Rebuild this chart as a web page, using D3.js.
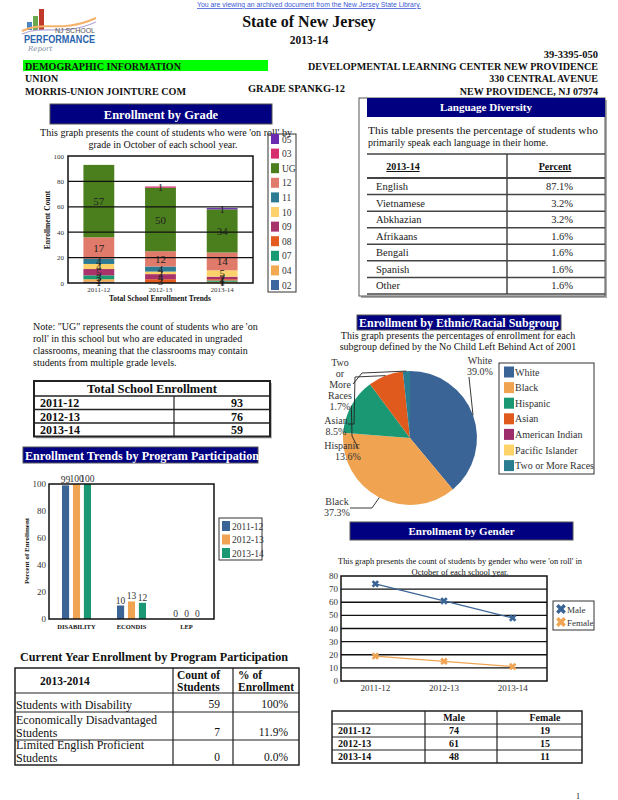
<!DOCTYPE html>
<html><head><meta charset="utf-8">
<script src="https://cdn.jsdelivr.net/npm/d3@7"></script>
<style>
body{margin:0;background:#fff;}
svg{display:block;font-family:"Liberation Serif","Times New Roman",serif;}
</style>
</head><body>
<svg id="c" width="618" height="800"></svg>
<script>
// ---------------- DATA ----------------
const gradeYears = ["2011-12","2012-13","2013-14"];
const gradeKeys  = ["02","04","07","08","09","10","11","12","UG","03","05"]; // bottom -> top
const g02 = [1,0,0];
const g04 = [2,0,1];
const g07 = [3,0,1];
const g08 = [0,3,1];
const g09 = [5,4,2];
const g10 = [4,2,5];
const g11 = [4,4,0];
const g12 = [17,12,14];
const gUG = [57,50,34];
const g03 = [0,1,0];
const g05 = [0,0,1];
const gradeColors = ["#3d66a0","#f3a952","#1a9a73","#e35b1f","#a8336b","#fdd26a","#2d7b92","#e07a6a","#4b7f1d","#d62e6e","#6a2bb0"];
const gradeTicks = [0,20,40,60,80,100];

const totalYears = ["2011-12","2012-13","2013-14"];
const totalEnrollment = [93,76,59];

const languages = ["English","Vietnamese","Abkhazian","Afrikaans","Bengali","Spanish","Other"];
const languagePct = ["87.1%","3.2%","3.2%","1.6%","1.6%","1.6%","1.6%"];

const programCats = ["DISABILITY","ECONDIS","LEP"];
const programYears = ["2011-12","2012-13","2013-14"];
const prog2011 = [99,10,0];
const prog2012 = [100,13,0];
const prog2013 = [100,12,0];
const programColors = ["#3a6496","#f0a452","#1a9873"];
const programTicks = [0,20,40,60,80,100];

const ethnicGroups = ["White","Black","Hispanic","Asian","American Indian","Pacific Islander","Two or More Races"];
const ethnicPct = [39.0,37.3,13.6,8.5,0,0,1.7];
const ethnicColors = ["#3a6496","#f0a452","#1a9873","#e05a1e","#9e2d6b","#fdd36a","#2a7c91"];

const genderYears = ["2011-12","2012-13","2013-14"];
const male = [74,61,48];
const female = [19,15,11];
const genderTicks = [0,10,20,30,40,50,60,70,80];

const currentPrograms = [["Students with Disability"],["Economically Disadvantaged","Students"],["Limited English Proficient","Students"]];
const currentCount = [59,7,0];
const currentPct = ["100%","11.9%","0.0%"];

// ---------------- HELPERS ----------------
const svg = d3.select("#c");
function T(x,y,s,o={}){
  const t = svg.append("text").attr("x",x).attr("y",y).text(s)
    .attr("font-size",o.size||10).attr("text-anchor",o.anchor||"start").attr("fill",o.fill||"#111");
  if(o.bold) t.attr("font-weight","bold");
  if(o.family) t.attr("font-family",o.family);
  if(o.deco) t.attr("text-decoration",o.deco);
  if(o.len) t.attr("textLength",o.len).attr("lengthAdjust","spacingAndGlyphs");
  return t;
}
function R(x,y,w,h,fill,stroke,sw){
  return svg.append("rect").attr("x",x).attr("y",y).attr("width",w).attr("height",h)
   .attr("fill",fill||"none").attr("stroke",stroke||"none").attr("stroke-width",sw||1);
}
function L(x1,y1,x2,y2,c,w){
  return svg.append("line").attr("x1",x1).attr("y1",y1).attr("x2",x2).attr("y2",y2)
   .attr("stroke",c||"#222").attr("stroke-width",w||1);
}
function banner(x,y,w,h,txt,size){
  R(x,y,w,h,"#000080","#555",1);
  T(x+w/2,y+h/2+size*0.36,txt,{size:size,bold:true,anchor:"middle",fill:"#fff"});
}

// ---------------- HEADER ----------------
T(309,7,"You are viewing an archived document from the New Jersey State Library.",{size:8,anchor:"middle",fill:"#3b5bd6",deco:"underline",family:"Liberation Sans, Arial, sans-serif",len:224});
// logo
R(33,16,5,14,"#6aa84f"); R(39,9,5,21,"#c0392b"); R(27,22,5,8,"#4a86c5");
svg.append("path").attr("d","M22,31 C45,20 60,34 96,18").attr("fill","none").attr("stroke","#f6b26b").attr("stroke-width",2);
svg.append("path").attr("d","M22,34 C45,24 62,37 96,22").attr("fill","none").attr("stroke","#b4a7d6").attr("stroke-width",1.2);
T(95,33,"NJ SCHOOL",{size:7,anchor:"end",fill:"#555",family:"Liberation Sans, Arial, sans-serif"});
T(24,43,"PERFORMANCE",{size:10,bold:true,fill:"#2a64ad",family:"Liberation Sans, Arial, sans-serif",len:71});
T(28,51,"Report",{size:7,fill:"#7f8fa6",family:"DejaVu Serif, serif"}).attr("font-style","italic");

T(309,27,"State of New Jersey",{size:16,bold:true,anchor:"middle"});
T(309,44,"2013-14",{size:11.5,bold:true,anchor:"middle"});
T(598,58,"39-3395-050",{size:10.5,bold:true,anchor:"end"});
R(23,60,245,11,"#00ff00");
T(25,70,"DEMOGRAPHIC INFORMATION",{size:10,bold:true,len:156});
T(598,70,"DEVELOPMENTAL LEARNING CENTER NEW PROVIDENCE",{size:10,bold:true,anchor:"end",len:290});
T(25,82,"UNION",{size:10,bold:true});
T(598,82,"330 CENTRAL AVENUE",{size:10,bold:true,anchor:"end"});
T(25,95,"MORRIS-UNION JOINTURE COM",{size:10,bold:true,len:161});
T(248,92,"GRADE SPANKG-12",{size:10,bold:true,len:97});
T(598,95,"NEW PROVIDENCE, NJ 07974",{size:10,bold:true,anchor:"end"});

// ---------------- ENROLLMENT BY GRADE ----------------
banner(50,104,222,20,"Enrollment by Grade",12.5);
T(166,136,"This graph presents the count of students who were 'on roll' by",{size:10,anchor:"middle",len:252});
T(163,148,"grade in October of each school year.",{size:10,anchor:"middle"});
(function(){
  const series = [g02,g04,g07,g08,g09,g10,g11,g12,gUG,g03,g05];
  const rows = gradeYears.map((yr,i)=>{const o={year:yr}; gradeKeys.forEach((k,j)=>o[k]=series[j][i]); return o;});
  const x = d3.scaleBand().domain(gradeYears).range([68,253]).paddingInner(0.5).paddingOuter(0.25);
  const y = d3.scaleLinear().domain([0,100]).range([283,156]);
  const color = d3.scaleOrdinal().domain(gradeKeys).range(gradeColors);
  const g = svg.append("g");
  gradeTicks.forEach(t=>{ if(t>0 && t<100) L(68,y(t),253,y(t),"#111",1.3); });
  const stack = d3.stack().keys(gradeKeys)(rows);
  stack.forEach(s=>{
    g.selectAll(null).data(s).join("rect")
     .attr("x",d=>x(d.data.year)).attr("width",x.bandwidth())
     .attr("y",d=>y(d[1])).attr("height",d=>y(d[0])-y(d[1]))
     .attr("fill",color(s.key));
  });
  stack.forEach(s=>{
    g.selectAll(null).data(s.filter(d=>d[1]-d[0]>0)).join("text")
     .attr("x",d=>x(d.data.year)+x.bandwidth()/2).attr("y",d=>(y(d[0])+y(d[1]))/2+4)
     .attr("text-anchor","middle").attr("font-size",11).attr("fill","#222")
     .text(d=>d[1]-d[0]);
  });
  R(68,156,185,127,"none","#111",1.5);
  gradeTicks.forEach(t=>T(64,y(t)+2.5,t,{size:7,anchor:"end",fill:"#333"}));
  gradeYears.forEach(yr=>T(x(yr)+x.bandwidth()/2,292,yr,{size:7,anchor:"middle",fill:"#333"}));
  T(160,301,"Total School Enrollment Trends",{size:7.5,bold:true,anchor:"middle"});
  T(0,0,"Enrollment Count",{size:7.5,bold:true,anchor:"middle"}).attr("transform","translate(50,220) rotate(-90)");
  // legend
  R(268,134,28,158,"none","#333",1);
  const leg = gradeKeys.slice().reverse();
  leg.forEach((k,i)=>{
    const cy = 139 + i*14.6;
    R(271,cy-5,8,10,color(k));
    T(282,cy+3.5,k,{size:9.5,fill:"#333"});
  });
})();

// note
["Note: \"UG\" represents the count of students who are 'on",
 "roll' in this school but who are educated in ungraded",
 "classrooms, meaning that the classrooms may contain",
 "students from multiple grade levels."].forEach((s,i)=>T(33,330+i*12,s,{size:10}));

// Total School Enrollment table
(function(){
  const x0=34,x1=270,xm=174, top=381, hh=15, rh=13.5;
  R(x0+2,top+2,x1-x0,hh+rh*3,"#bbb");
  R(x0,top,x1-x0,hh+rh*3,"#fff","#222",2);
  T((x0+x1)/2,top+12,"Total School Enrollment",{size:12.5,bold:true,anchor:"middle"});
  totalYears.forEach((yr,i)=>{
    const yy = top+hh+i*rh;
    L(x0,yy,x1,yy,"#222",1.5);
    T(40,yy+11,yr,{size:12,bold:true});
    T(243,yy+11,totalEnrollment[i],{size:12,bold:true,anchor:"end"});
  });
  L(xm,top+hh,xm,top+hh+rh*3,"#222",1.2);
})();

// ---------------- PROGRAM PARTICIPATION ----------------
R(23,447,235,16,"#000080","#555",1);
T(25,460,"Enrollment Trends by Program Participation",{size:12.5,bold:true,fill:"#fff",len:234});
(function(){
  const series=[prog2011,prog2012,prog2013];
  const x0 = d3.scaleBand().domain(programCats).range([49,214]);
  const x1 = d3.scaleBand().domain(programYears).range([-14.5,14.5]).paddingInner(0.35);
  const y = d3.scaleLinear().domain([0,100]).range([619,484]);
  const col = d3.scaleOrdinal().domain(programYears).range(programColors);
  programYears.forEach((yr,j)=>{
    programCats.forEach((c,i)=>{
      const v = series[j][i];
      const cx = x0(c)+x0.bandwidth()/2 + x1(yr);
      R(cx,y(v),x1.bandwidth(),y(0)-y(v),col(yr));
      T(cx+x1.bandwidth()/2,y(v)-2,v,{size:9.5,anchor:"middle",fill:"#333"});
    });
  });
  R(49,484,165,135,"none","#111",1.5);
  programTicks.forEach(t=>T(46,y(t)+3,t,{size:9,anchor:"end",fill:"#333"}));
  programCats.forEach(c=>T(x0(c)+x0.bandwidth()/2,629,c,{size:6.5,bold:true,anchor:"middle"}));
  T(0,0,"Percent of Enrollment",{size:7,bold:true,anchor:"middle"}).attr("transform","translate(29,551) rotate(-90)");
  R(219,518,43,42,"none","#333",1);
  programYears.forEach((yr,i)=>{
    const cy=526+i*13.5;
    R(222,cy-5,8,10,col(yr));
    T(232,cy+3.5,yr,{size:9.5,fill:"#333"});
  });
})();

// Current year table
T(20,661,"Current Year Enrollment by Program Participation",{size:12.5,bold:true,len:268});
(function(){
  const xs=[15,173,233,299], top=668;
  const rowsY=[668,693,712,740,765];
  R(xs[0],top,xs[3]-xs[0],rowsY[4]-top,"none","#222",1.5);
  rowsY.slice(1,4).forEach(yy=>L(xs[0],yy,xs[3],yy,"#222",1.2));
  [xs[1],xs[2]].forEach(xx=>L(xx,top,xx,rowsY[4],"#222",1.2));
  T(40,685,"2013-2014",{size:11.5,bold:true});
  T(177,679,"Count of",{size:11.5,bold:true}); T(177,691,"Students",{size:11.5,bold:true});
  T(238,679,"% of",{size:11.5,bold:true}); T(238,691,"Enrollment",{size:11.5,bold:true});
  currentPrograms.forEach((lines,i)=>{
    const bottom = rowsY[i+2];
    lines.forEach((s,k)=>T(16,bottom-3-(lines.length-1-k)*13,s,{size:12}));
    T(220,bottom-4,currentCount[i],{size:11.5,anchor:"end"});
    T(288,bottom-4,currentPct[i],{size:11.5,anchor:"end"});
  });
})();

// ---------------- LANGUAGE DIVERSITY ----------------
(function(){
  R(361,100,246,198,"#aaa");
  R(359,98,246,198,"#fff","#555",1);
  R(367,98,238,19,"#000080");
  T(486,111,"Language Diversity",{size:11,bold:true,anchor:"middle",fill:"#fff"});
  T(368,134,"This table presents the percentage of students who",{size:10,len:230});
  T(368,146,"primarily speak each language in their home.",{size:10});
  L(367,154,605,154,"#444",1.5);
  T(403,170,"2013-14",{size:10,bold:true,anchor:"middle",deco:"underline"});
  T(555,170,"Percent",{size:10,bold:true,anchor:"middle",deco:"underline"});
  const rowY = d3.scaleBand().domain(languages).range([178,294]);
  L(367,178,605,178,"#444",2);
  languages.forEach(l=>{
    const y0=rowY(l);
    T(376,y0+12,l,{size:10.5,fill:"#222"});
    T(573,y0+12,languagePct[languages.indexOf(l)],{size:10.5,anchor:"end",fill:"#222"});
    L(367,y0+rowY.bandwidth(),605,y0+rowY.bandwidth(),"#444",1.5);
  });
  L(507,154,507,294,"#444",1.5);
})();

// ---------------- ETHNIC PIE ----------------
R(357,315,204,15,"#000080","#555",1);
T(459,327,"Enrollment by Ethnic/Racial Subgroup",{size:12,bold:true,anchor:"middle",fill:"#fff",len:200});
T(458,339,"This graph presents the percentages of enrollment for each",{size:10,anchor:"middle"});
T(458,350,"subgroup defined by the No Child Left Behind Act of 2001",{size:10,anchor:"middle"});
(function(){
  const cx=410, cy=438, r=67;
  const pie = d3.pie().sort(null).value(d=>d.v);
  const data = pie(ethnicGroups.map((g,i)=>({g,v:ethnicPct[i],c:ethnicColors[i]})));
  const arc = d3.arc().innerRadius(0).outerRadius(r);
  const edge = d3.arc().innerRadius(r).outerRadius(r);
  const g = svg.append("g").attr("transform",`translate(${cx},${cy})`);
  g.selectAll("path").data(data.filter(d=>d.data.v>0)).join("path").attr("d",arc).attr("fill",d=>d.data.c);
  const pt = name=>{const d=data.find(e=>e.data.g===name); const c=edge.centroid(d); return [cx+c[0],cy+c[1]];};
  const line = d3.line();
  const lead = (pts)=>svg.append("path").attr("d",line(pts)).attr("fill","none").attr("stroke","#222").attr("stroke-width",0.9);
  // labels
  T(480,364,"White",{size:10,anchor:"middle",fill:"#333"});
  T(480,375,"39.0%",{size:10,anchor:"middle",fill:"#333"});
  lead([[469,377],pt("White")]);
  T(337,505,"Black",{size:10,anchor:"middle",fill:"#333"});
  T(337,516,"37.3%",{size:10,anchor:"middle",fill:"#333"});
  const pb=pt("Black"); lead([[350,508],[372,508],pb]);
  ["Two","or","More","Races","1.7%"].forEach((s,i)=>T(340,366+i*11,s,{size:10,anchor:"middle",fill:"#333"}));
  lead([[353,384],[362,373],pt("Two or More Races")]);
  T(336,424,"Asian",{size:10,anchor:"middle",fill:"#333"});
  T(336,435,"8.5%",{size:10,anchor:"middle",fill:"#333"});
  lead([[348,424],[354,424],[355,377],pt("Asian")]);
  T(342,449,"Hispanic",{size:10,anchor:"middle",fill:"#333"});
  T(348,460,"13.6%",{size:10,anchor:"middle",fill:"#333"});
  lead([[358,448],[352,436],pt("Hispanic")]);
  // legend
  R(499,363,95,111,"none","#333",1);
  ethnicGroups.forEach((e,i)=>{
    const yy=372+i*15.6;
    R(504,yy-5.5,10,11,ethnicColors[i]);
    T(515,yy+3.5,e,{size:10,fill:"#333"});
  });
})();

// ---------------- GENDER ----------------
banner(350,522,223,18,"Enrollment by Gender",11);
T(460,564,"This graph presents the count of students by gender who were 'on roll' in",{size:8.5,anchor:"middle",len:244});
T(460,575,"October of each school year.",{size:8.5,anchor:"middle"});
(function(){
  const x = d3.scalePoint().domain(genderYears).range([341,547]).padding(0.5);
  const y = d3.scaleLinear().domain([0,80]).range([681,576]);
  genderTicks.forEach(t=>{ if(t>0&&t<80) L(341,y(t),547,y(t),"#111",1.3); });
  R(341,576,206,105,"none","#111",1.5);
  genderTicks.forEach(t=>T(338,y(t)+3,t,{size:9,anchor:"end",fill:"#333"}));
  genderYears.forEach(yr=>T(x(yr),691,yr,{size:9,anchor:"middle",fill:"#333"}));
  const line = d3.line().x((d,i)=>x(genderYears[i])).y(d=>y(d));
  const mk = d3.symbol().type(d3.symbolCross).size(34);
  [[male,"#3a6496"],[female,"#f0a452"]].forEach(([vals,c])=>{
    svg.append("path").attr("d",line(vals)).attr("fill","none").attr("stroke",c).attr("stroke-width",1.2);
    vals.forEach((v,i)=>svg.append("path").attr("d",mk()).attr("fill",c)
      .attr("transform",`translate(${x(genderYears[i])},${y(v)}) rotate(45)`));
  });
  R(553,601,41,29,"none","#333",1);
  [["Male","#3a6496"],["Female","#f0a452"]].forEach(([n,c],i)=>{
    const yy=609+i*13;
    svg.append("path").attr("d",d3.symbol().type(d3.symbolCross).size(60)()).attr("fill",c)
      .attr("transform",`translate(561,${yy}) rotate(45)`);
    T(567,yy+3.5,n,{size:9,fill:"#333"});
  });
})();

// Gender table
(function(){
  const xs=[332,425,497,582], ys=[711,724,737,750,763];
  R(xs[0],ys[0],xs[3]-xs[0],ys[4]-ys[0],"none","#222",1.5);
  ys.slice(1,4).forEach(yy=>L(xs[0],yy,xs[3],yy,"#222",1.2));
  [xs[1],xs[2]].forEach(xx=>L(xx,ys[0],xx,ys[4],"#222",1.2));
  T(454,721,"Male",{size:10,bold:true,anchor:"middle"});
  T(545,721,"Female",{size:10,bold:true,anchor:"middle"});
  genderYears.forEach((yr,i)=>{
    const b=ys[i+1]+10;
    T(338,b,yr,{size:10,bold:true});
    T(454,b,male[i],{size:10,bold:true,anchor:"middle"});
    T(545,b,female[i],{size:10,bold:true,anchor:"middle"});
  });
})();

T(578,799,"1",{size:8,anchor:"middle"});
</script>
</body></html>
